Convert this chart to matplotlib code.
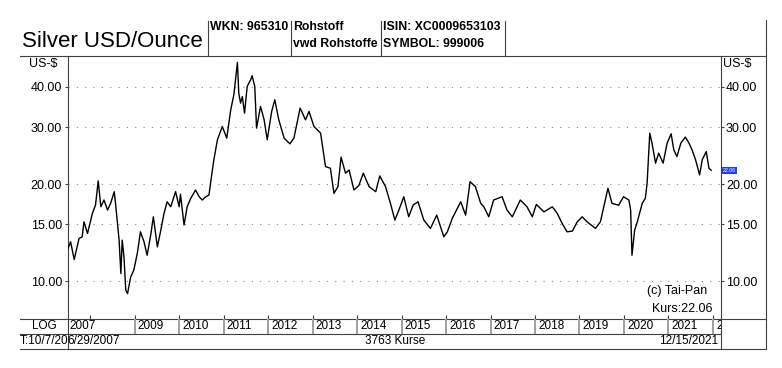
import matplotlib.pyplot as plt
from matplotlib.lines import Line2D

W, H = 782, 368
plt.rcParams['font.family'] = ['Liberation Sans', 'DejaVu Sans']

# silver price (decimal year, USD per ounce)
years = [2007.50, 2007.56, 2007.64, 2007.75, 2007.82, 2007.86, 2007.94, 2008.05, 2008.12, 2008.18,
         2008.24, 2008.31, 2008.39, 2008.46, 2008.54, 2008.57, 2008.65, 2008.69, 2008.72, 2008.76,
         2008.80, 2008.84, 2008.91, 2008.98, 2009.06, 2009.13, 2009.21, 2009.28, 2009.36, 2009.42,
         2009.51, 2009.58, 2009.66, 2009.73, 2009.81, 2009.92, 2010.00, 2010.03, 2010.11, 2010.18,
         2010.26, 2010.37, 2010.45, 2010.52, 2010.60, 2010.67, 2010.72, 2010.78, 2010.86, 2010.97,
         2011.07, 2011.16, 2011.23, 2011.31, 2011.34, 2011.38, 2011.42, 2011.47, 2011.53, 2011.61,
         2011.64, 2011.70, 2011.74, 2011.83, 2011.91, 2011.98, 2012.08, 2012.15, 2012.24, 2012.36,
         2012.49, 2012.58, 2012.72, 2012.84, 2012.92, 2013.03, 2013.18, 2013.29, 2013.40, 2013.48,
         2013.57, 2013.64, 2013.74, 2013.82, 2013.93, 2014.04, 2014.14, 2014.27, 2014.42, 2014.51,
         2014.64, 2014.75, 2014.85, 2014.94, 2015.05, 2015.16, 2015.26, 2015.37, 2015.50, 2015.65,
         2015.79, 2015.95, 2016.03, 2016.14, 2016.33, 2016.44, 2016.54, 2016.66, 2016.78, 2016.85,
         2016.96, 2017.07, 2017.26, 2017.37, 2017.49, 2017.67, 2017.82, 2017.94, 2018.03, 2018.20,
         2018.39, 2018.50, 2018.61, 2018.72, 2018.84, 2018.95, 2019.06, 2019.17, 2019.36, 2019.47,
         2019.64, 2019.73, 2019.88, 2019.99, 2020.11, 2020.15, 2020.18, 2020.24, 2020.30, 2020.41,
         2020.48, 2020.52, 2020.58, 2020.63, 2020.71, 2020.78, 2020.88, 2020.97, 2021.06, 2021.12,
         2021.19, 2021.28, 2021.38, 2021.46, 2021.53, 2021.61, 2021.70, 2021.76, 2021.85, 2021.91,
         2021.96]
prices = [12.63, 13.25, 11.68, 13.57, 13.73, 15.28, 14.06, 16.23, 17.22, 20.45,
          17.01, 17.85, 16.62, 17.43, 18.94, 17.40, 13.41, 10.57, 13.41, 11.90,
          9.38, 9.16, 10.31, 10.82, 12.22, 14.23, 13.25, 12.04, 13.89, 15.84,
          12.78, 14.23, 16.23, 17.63, 17.01, 18.94, 17.01, 18.60, 14.93, 17.01,
          18.06, 19.17, 18.27, 17.85, 18.27, 18.49, 20.80, 23.76, 27.41, 30.15,
          27.75, 33.96, 37.81, 47.60, 38.27, 35.60, 37.30, 33.17, 40.12, 42.10,
          43.30, 40.10, 29.80, 34.78, 31.62, 27.41, 33.56, 36.48, 31.62, 27.75,
          26.64, 27.75, 34.38, 31.62, 33.56, 30.15, 28.75, 22.65, 22.39, 18.72,
          19.63, 24.23, 21.61, 22.10, 19.17, 19.80, 21.61, 19.63, 18.94, 21.19,
          19.63, 17.43, 15.47, 16.62, 18.27, 15.84, 17.22, 17.63, 15.47, 14.58,
          16.03, 13.73, 14.23, 15.66, 17.63, 16.03, 20.34, 19.63, 17.43, 17.01,
          15.84, 17.85, 18.27, 16.62, 15.84, 17.85, 17.01, 15.84, 17.30, 16.40,
          17.01, 16.23, 15.11, 14.23, 14.30, 15.28, 15.84, 15.28, 14.58, 15.28,
          19.41, 17.43, 17.20, 18.27, 17.85, 16.62, 12.04, 14.40, 15.28, 17.43,
          18.06, 20.11, 28.75, 26.77, 23.21, 24.93, 23.21, 26.77, 28.61, 25.52,
          24.32, 26.80, 27.95, 26.80, 25.52, 23.76, 21.35, 23.80, 25.21, 22.39,
          22.06]

y_ticks = [10, 15, 20, 30, 40]
y_labels = ['10.00', '15.00', '20.00', '30.00', '40.00']
year_ticks = list(range(2008, 2023))
year_labels = ['2009', '2010', '2011', '2012', '2013', '2014', '2015', '2016', '2017',
               '2018', '2019', '2020', '2021', '2022']
last_price = '22.06'

x_lo, x_hi = 2007.49, 2022.17
frame = '#404040'


def fx(px):
    return px / W


def fy(py):
    return 1 - py / H


fig = plt.figure(figsize=(W / 100, H / 100), dpi=100)

# overlay in pixel coordinates for the frame and header
bg = fig.add_axes([0, 0, 1, 1])
bg.set_xlim(0, W)
bg.set_ylim(H, 0)
bg.axis('off')

for x0, x1, y in [(20, 766, 55.5), (20, 766, 318.5), (20, 720, 333.5), (20, 766, 348.5)]:
    bg.add_line(Line2D([x0, x1], [y, y], color=frame, lw=0.8))
for x, y0, y1 in [(208, 21, 55.5), (291, 21, 55.5), (381, 21, 55.5), (505, 21, 55.5),
                  (766, 20, 348.5), (67.5, 55.5, 348.5), (720.5, 55.5, 348.5)]:
    bg.add_line(Line2D([x, x], [y0, y1], color=frame, lw=0.8))

bg.text(22, 47, 'Silver USD/Ounce', fontsize=16, va='baseline', ha='left')
hdr = dict(fontsize=8.8, fontweight='bold', va='center', ha='left')
bg.text(210, 27, 'WKN: 965310', **hdr)
bg.text(293, 27, 'Rohstoff', **hdr)
bg.text(293, 44, 'vwd Rohstoffe', **hdr)
bg.text(383, 27, 'ISIN: XC0009653103', **hdr)
bg.text(383, 44, 'SYMBOL: 999006', **hdr)

bg.text(57, 64, 'US-$', fontsize=9, ha='right', va='center')
bg.text(723, 64, 'US-$', fontsize=9, ha='left', va='center')
bg.text(44, 326, 'LOG', fontsize=8.5, ha='center', va='center')
bg.text(19.5, 341, 'T:10/7/20', fontsize=8.5, ha='left', va='center')
bg.text(67.5, 341, '6/29/2007', fontsize=8.5, ha='left', va='center')
bg.text(395, 341, '3763 Kurse', fontsize=8.5, ha='center', va='center')
bg.text(718, 341, '12/15/2021', fontsize=8.5, ha='right', va='center')

# main price panel
ax = fig.add_axes([fx(67.5), fy(318.5), fx(720.5) - fx(67.5), fy(55.5) - fy(318.5)])
ax.patch.set_visible(False)
ax.plot(years, prices, color='black', lw=1.0)
ax.set_yscale('log')
ax.set_ylim(7.67, 50)
ax.set_xlim(x_lo, x_hi)
ax.set_yticks(y_ticks)
ax.set_yticklabels(y_labels)
ax.yaxis.set_minor_locator(plt.NullLocator())
ax.set_xticks(year_ticks)
ax.tick_params(axis='x', direction='in', length=3, labelbottom=False, color=frame)
ax.tick_params(axis='y', which='major', direction='out', length=2.5, width=0.8, pad=1.5,
               labelsize=9, left=True, right=True, labelleft=True, labelright=True, color=frame)
for yt in y_ticks:
    ax.axhline(yt, color='#888888', lw=0.8, dashes=(1, 6.5), zorder=0)
for s in ax.spines.values():
    s.set_visible(False)
ax.text(1.004, 22.06, last_price, transform=ax.get_yaxis_transform(), fontsize=3.8,
        color='white', va='center', ha='left',
        bbox=dict(boxstyle='square,pad=0.15', fc='#2040ff', ec='none'))
ax.text(0.980, 0.103, '(c) Tai-Pan', transform=ax.transAxes, fontsize=9, ha='right', va='center')
ax.text(0.988, 0.038, 'Kurs:' + last_price, transform=ax.transAxes, fontsize=9,
        ha='right', va='center')

# year strip
yr = fig.add_axes([fx(67.5), fy(333.5), fx(720.5) - fx(67.5), fy(318.5) - fy(333.5)])
yr.set_xlim(x_lo, x_hi)
yr.set_ylim(0, 1)
yr.axis('off')
yr.text(x_lo + 0.04, 0.5, '2007', fontsize=8.5, ha='left', va='center')
for yv, lab in zip(year_ticks[1:], year_labels):
    yr.axvline(yv, color='#a0a0a0', lw=1.4)
    yr.text(yv + 0.07, 0.5, lab, fontsize=8.5, ha='left', va='center', clip_on=True)

fig.savefig('out.png', dpi=100)
